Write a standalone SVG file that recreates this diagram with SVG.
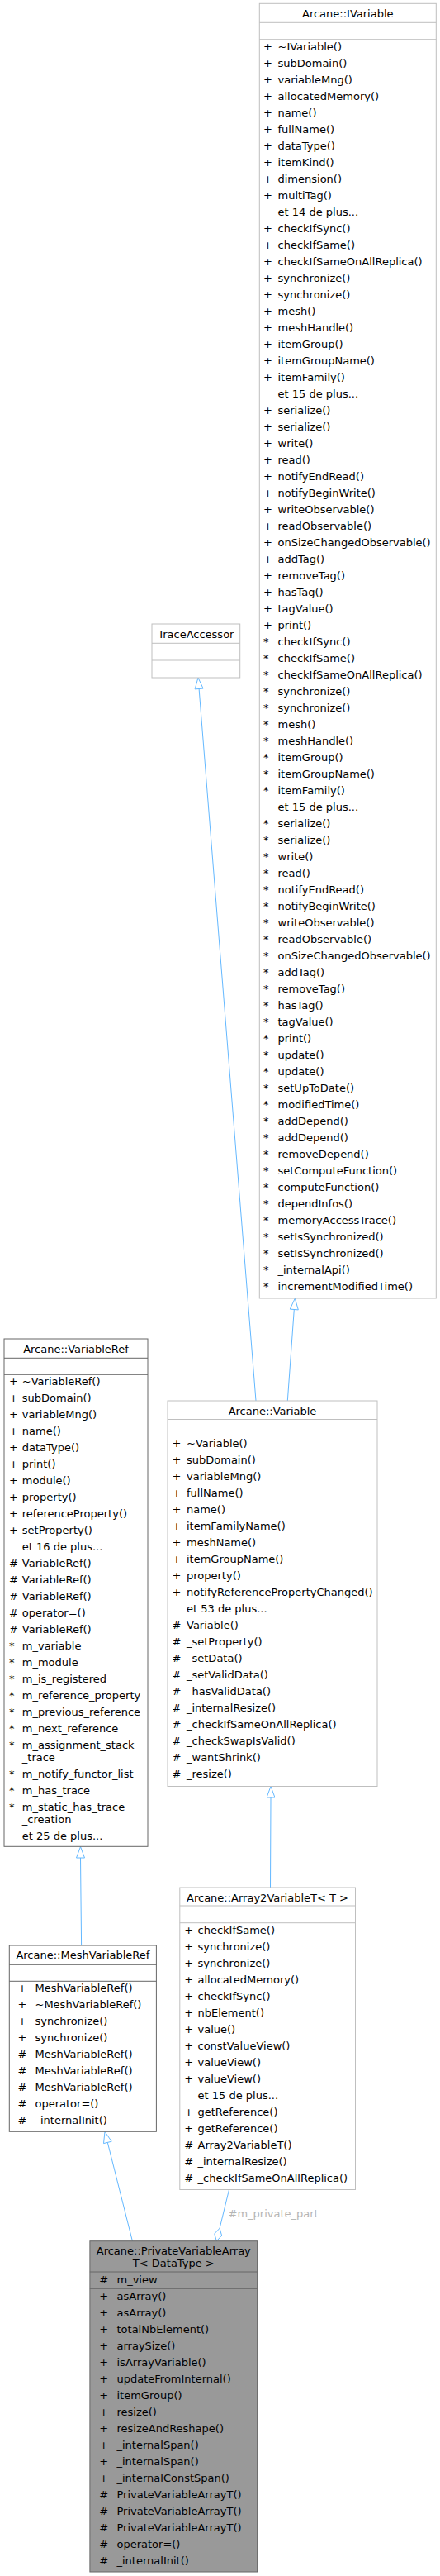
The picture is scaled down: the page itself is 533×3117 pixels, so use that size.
<svg xmlns="http://www.w3.org/2000/svg" width="533" height="3117" viewBox="0 0 533 3117">
<style>
text{font-family:"DejaVu Sans",sans-serif;font-size:13px;fill:#000}
.ti{text-anchor:middle}
.lb{fill:#fff;stroke:#bfbfbf;stroke-width:1}
.ll{stroke:#bfbfbf;stroke-width:1}
.db{fill:#fff;stroke:#666;stroke-width:1}
.dl{stroke:#666;stroke-width:1}
.cb{fill:#999;stroke:#666;stroke-width:1}
.e{fill:none;stroke:#63b8ff;stroke-width:1}
.ah{fill:#fff;stroke:#63b8ff;stroke-width:1}
.lab{fill:#b5b5b5}
</style>
<rect width="533" height="3117" fill="#fff"/>

<g id="edges">
  <!-- Variable -> IVariable -->
  <path class="e" d="M348.3,1695 L356.3,1584.5"/>
  <polygon class="ah" points="357.3,1571 361.3,1584.9 351.3,1584.1"/>
  <!-- Variable -> TraceAccessor -->
  <path class="e" d="M310,1695 L241.1,833.5"/>
  <polygon class="ah" points="240,820 246.1,833.1 236.1,833.9"/>
  <!-- MeshVariableRef -> VariableRef -->
  <path class="e" d="M98.6,2354 L97.5,2248"/>
  <polygon class="ah" points="97.5,2234.5 102.5,2248 92.5,2248"/>
  <!-- Array2VariableT -> Variable -->
  <path class="e" d="M327.5,2284 L328,2175"/>
  <polygon class="ah" points="328,2161.5 333,2175 323,2175"/>
  <!-- PrivateVariableArrayT -> MeshVariableRef -->
  <path class="e" d="M160.4,2711.7 L130.3,2592.4"/>
  <polygon class="ah" points="127,2579.3 135.2,2591.2 125.5,2593.6"/>
  <!-- Array2VariableT -> PrivateVariableArrayT (m_private_part) -->
  <path class="e" d="M277.5,2649.5 L266.1,2696.2"/>
  <polygon class="ah" points="262.3,2711.7 268.6,2705.1 266.1,2696.2 259.8,2702.9"/>
  <text class="lab" x="276.5" y="2683.3">#m_private_part</text>
</g>

<g id="IVariable">
  <rect class="lb" x="314.3" y="4.3" width="214" height="1566.7"/>
  <line class="ll" x1="314.3" y1="27.3" x2="528.3" y2="27.3"/>
  <line class="ll" x1="314.3" y1="47.7" x2="528.3" y2="47.7"/>
  <text class="ti" x="421.3" y="21.3">Arcane::IVariable</text>
  <text y="61"><tspan x="319">+</tspan><tspan x="336.5">~IVariable()</tspan></text>
  <text y="81"><tspan x="319">+</tspan><tspan x="336.5">subDomain()</tspan></text>
  <text y="101"><tspan x="319">+</tspan><tspan x="336.5">variableMng()</tspan></text>
  <text y="121"><tspan x="319">+</tspan><tspan x="336.5">allocatedMemory()</tspan></text>
  <text y="141"><tspan x="319">+</tspan><tspan x="336.5">name()</tspan></text>
  <text y="161"><tspan x="319">+</tspan><tspan x="336.5">fullName()</tspan></text>
  <text y="181"><tspan x="319">+</tspan><tspan x="336.5">dataType()</tspan></text>
  <text y="201"><tspan x="319">+</tspan><tspan x="336.5">itemKind()</tspan></text>
  <text y="221"><tspan x="319">+</tspan><tspan x="336.5">dimension()</tspan></text>
  <text y="241"><tspan x="319">+</tspan><tspan x="336.5">multiTag()</tspan></text>
  <text x="336.5" y="261">et 14 de plus...</text>
  <text y="281"><tspan x="319">+</tspan><tspan x="336.5">checkIfSync()</tspan></text>
  <text y="301"><tspan x="319">+</tspan><tspan x="336.5">checkIfSame()</tspan></text>
  <text y="321"><tspan x="319">+</tspan><tspan x="336.5">checkIfSameOnAllReplica()</tspan></text>
  <text y="341"><tspan x="319">+</tspan><tspan x="336.5">synchronize()</tspan></text>
  <text y="361"><tspan x="319">+</tspan><tspan x="336.5">synchronize()</tspan></text>
  <text y="381"><tspan x="319">+</tspan><tspan x="336.5">mesh()</tspan></text>
  <text y="401"><tspan x="319">+</tspan><tspan x="336.5">meshHandle()</tspan></text>
  <text y="421"><tspan x="319">+</tspan><tspan x="336.5">itemGroup()</tspan></text>
  <text y="441"><tspan x="319">+</tspan><tspan x="336.5">itemGroupName()</tspan></text>
  <text y="461"><tspan x="319">+</tspan><tspan x="336.5">itemFamily()</tspan></text>
  <text x="336.5" y="481">et 15 de plus...</text>
  <text y="501"><tspan x="319">+</tspan><tspan x="336.5">serialize()</tspan></text>
  <text y="521"><tspan x="319">+</tspan><tspan x="336.5">serialize()</tspan></text>
  <text y="541"><tspan x="319">+</tspan><tspan x="336.5">write()</tspan></text>
  <text y="561"><tspan x="319">+</tspan><tspan x="336.5">read()</tspan></text>
  <text y="581"><tspan x="319">+</tspan><tspan x="336.5">notifyEndRead()</tspan></text>
  <text y="601"><tspan x="319">+</tspan><tspan x="336.5">notifyBeginWrite()</tspan></text>
  <text y="621"><tspan x="319">+</tspan><tspan x="336.5">writeObservable()</tspan></text>
  <text y="641"><tspan x="319">+</tspan><tspan x="336.5">readObservable()</tspan></text>
  <text y="661"><tspan x="319">+</tspan><tspan x="336.5">onSizeChangedObservable()</tspan></text>
  <text y="681"><tspan x="319">+</tspan><tspan x="336.5">addTag()</tspan></text>
  <text y="701"><tspan x="319">+</tspan><tspan x="336.5">removeTag()</tspan></text>
  <text y="721"><tspan x="319">+</tspan><tspan x="336.5">hasTag()</tspan></text>
  <text y="741"><tspan x="319">+</tspan><tspan x="336.5">tagValue()</tspan></text>
  <text y="761"><tspan x="319">+</tspan><tspan x="336.5">print()</tspan></text>
  <text y="781"><tspan x="319">*</tspan><tspan x="336.5">checkIfSync()</tspan></text>
  <text y="801"><tspan x="319">*</tspan><tspan x="336.5">checkIfSame()</tspan></text>
  <text y="821"><tspan x="319">*</tspan><tspan x="336.5">checkIfSameOnAllReplica()</tspan></text>
  <text y="841"><tspan x="319">*</tspan><tspan x="336.5">synchronize()</tspan></text>
  <text y="861"><tspan x="319">*</tspan><tspan x="336.5">synchronize()</tspan></text>
  <text y="881"><tspan x="319">*</tspan><tspan x="336.5">mesh()</tspan></text>
  <text y="901"><tspan x="319">*</tspan><tspan x="336.5">meshHandle()</tspan></text>
  <text y="921"><tspan x="319">*</tspan><tspan x="336.5">itemGroup()</tspan></text>
  <text y="941"><tspan x="319">*</tspan><tspan x="336.5">itemGroupName()</tspan></text>
  <text y="961"><tspan x="319">*</tspan><tspan x="336.5">itemFamily()</tspan></text>
  <text x="336.5" y="981">et 15 de plus...</text>
  <text y="1001"><tspan x="319">*</tspan><tspan x="336.5">serialize()</tspan></text>
  <text y="1021"><tspan x="319">*</tspan><tspan x="336.5">serialize()</tspan></text>
  <text y="1041"><tspan x="319">*</tspan><tspan x="336.5">write()</tspan></text>
  <text y="1061"><tspan x="319">*</tspan><tspan x="336.5">read()</tspan></text>
  <text y="1081"><tspan x="319">*</tspan><tspan x="336.5">notifyEndRead()</tspan></text>
  <text y="1101"><tspan x="319">*</tspan><tspan x="336.5">notifyBeginWrite()</tspan></text>
  <text y="1121"><tspan x="319">*</tspan><tspan x="336.5">writeObservable()</tspan></text>
  <text y="1141"><tspan x="319">*</tspan><tspan x="336.5">readObservable()</tspan></text>
  <text y="1161"><tspan x="319">*</tspan><tspan x="336.5">onSizeChangedObservable()</tspan></text>
  <text y="1181"><tspan x="319">*</tspan><tspan x="336.5">addTag()</tspan></text>
  <text y="1201"><tspan x="319">*</tspan><tspan x="336.5">removeTag()</tspan></text>
  <text y="1221"><tspan x="319">*</tspan><tspan x="336.5">hasTag()</tspan></text>
  <text y="1241"><tspan x="319">*</tspan><tspan x="336.5">tagValue()</tspan></text>
  <text y="1261"><tspan x="319">*</tspan><tspan x="336.5">print()</tspan></text>
  <text y="1281"><tspan x="319">*</tspan><tspan x="336.5">update()</tspan></text>
  <text y="1301"><tspan x="319">*</tspan><tspan x="336.5">update()</tspan></text>
  <text y="1321"><tspan x="319">*</tspan><tspan x="336.5">setUpToDate()</tspan></text>
  <text y="1341"><tspan x="319">*</tspan><tspan x="336.5">modifiedTime()</tspan></text>
  <text y="1361"><tspan x="319">*</tspan><tspan x="336.5">addDepend()</tspan></text>
  <text y="1381"><tspan x="319">*</tspan><tspan x="336.5">addDepend()</tspan></text>
  <text y="1401"><tspan x="319">*</tspan><tspan x="336.5">removeDepend()</tspan></text>
  <text y="1421"><tspan x="319">*</tspan><tspan x="336.5">setComputeFunction()</tspan></text>
  <text y="1441"><tspan x="319">*</tspan><tspan x="336.5">computeFunction()</tspan></text>
  <text y="1461"><tspan x="319">*</tspan><tspan x="336.5">dependInfos()</tspan></text>
  <text y="1481"><tspan x="319">*</tspan><tspan x="336.5">memoryAccessTrace()</tspan></text>
  <text y="1501"><tspan x="319">*</tspan><tspan x="336.5">setIsSynchronized()</tspan></text>
  <text y="1521"><tspan x="319">*</tspan><tspan x="336.5">setIsSynchronized()</tspan></text>
  <text y="1541"><tspan x="319">*</tspan><tspan x="336.5">_internalApi()</tspan></text>
  <text y="1561"><tspan x="319">*</tspan><tspan x="336.5">incrementModifiedTime()</tspan></text>
</g>

<g id="TraceAccessor">
  <rect class="lb" x="184" y="755" width="106.7" height="65"/>
  <line class="ll" x1="184" y1="778.3" x2="290.7" y2="778.3"/>
  <line class="ll" x1="184" y1="799" x2="290.7" y2="799"/>
  <text class="ti" x="237.3" y="772">TraceAccessor</text>
</g>

<g id="Variable">
  <rect class="lb" x="203" y="1695" width="254" height="466.5"/>
  <line class="ll" x1="203" y1="1717.5" x2="457" y2="1717.5"/>
  <line class="ll" x1="203" y1="1737.5" x2="457" y2="1737.5"/>
  <text class="ti" x="330" y="1712">Arcane::Variable</text>
  <text y="1751"><tspan x="208.5">+</tspan><tspan x="226">~Variable()</tspan></text>
  <text y="1771"><tspan x="208.5">+</tspan><tspan x="226">subDomain()</tspan></text>
  <text y="1791"><tspan x="208.5">+</tspan><tspan x="226">variableMng()</tspan></text>
  <text y="1811"><tspan x="208.5">+</tspan><tspan x="226">fullName()</tspan></text>
  <text y="1831"><tspan x="208.5">+</tspan><tspan x="226">name()</tspan></text>
  <text y="1851"><tspan x="208.5">+</tspan><tspan x="226">itemFamilyName()</tspan></text>
  <text y="1871"><tspan x="208.5">+</tspan><tspan x="226">meshName()</tspan></text>
  <text y="1891"><tspan x="208.5">+</tspan><tspan x="226">itemGroupName()</tspan></text>
  <text y="1911"><tspan x="208.5">+</tspan><tspan x="226">property()</tspan></text>
  <text y="1931"><tspan x="208.5">+</tspan><tspan x="226">notifyReferencePropertyChanged()</tspan></text>
  <text x="226" y="1951">et 53 de plus...</text>
  <text y="1971"><tspan x="208.5">#</tspan><tspan x="226">Variable()</tspan></text>
  <text y="1991"><tspan x="208.5">#</tspan><tspan x="226">_setProperty()</tspan></text>
  <text y="2011"><tspan x="208.5">#</tspan><tspan x="226">_setData()</tspan></text>
  <text y="2031"><tspan x="208.5">#</tspan><tspan x="226">_setValidData()</tspan></text>
  <text y="2051"><tspan x="208.5">#</tspan><tspan x="226">_hasValidData()</tspan></text>
  <text y="2071"><tspan x="208.5">#</tspan><tspan x="226">_internalResize()</tspan></text>
  <text y="2091"><tspan x="208.5">#</tspan><tspan x="226">_checkIfSameOnAllReplica()</tspan></text>
  <text y="2111"><tspan x="208.5">#</tspan><tspan x="226">_checkSwapIsValid()</tspan></text>
  <text y="2131"><tspan x="208.5">#</tspan><tspan x="226">_wantShrink()</tspan></text>
  <text y="2151"><tspan x="208.5">#</tspan><tspan x="226">_resize()</tspan></text>
</g>

<g id="VariableRef">
  <rect class="db" x="5" y="1620" width="174" height="614.3"/>
  <line class="dl" x1="5" y1="1643.3" x2="179" y2="1643.3"/>
  <line class="dl" x1="5" y1="1663.3" x2="179" y2="1663.3"/>
  <text class="ti" x="92" y="1637">Arcane::VariableRef</text>
  <text y="1676"><tspan x="11">+</tspan><tspan x="26.8">~VariableRef()</tspan></text>
  <text y="1696"><tspan x="11">+</tspan><tspan x="26.8">subDomain()</tspan></text>
  <text y="1716"><tspan x="11">+</tspan><tspan x="26.8">variableMng()</tspan></text>
  <text y="1736"><tspan x="11">+</tspan><tspan x="26.8">name()</tspan></text>
  <text y="1756"><tspan x="11">+</tspan><tspan x="26.8">dataType()</tspan></text>
  <text y="1776"><tspan x="11">+</tspan><tspan x="26.8">print()</tspan></text>
  <text y="1796"><tspan x="11">+</tspan><tspan x="26.8">module()</tspan></text>
  <text y="1816"><tspan x="11">+</tspan><tspan x="26.8">property()</tspan></text>
  <text y="1836"><tspan x="11">+</tspan><tspan x="26.8">referenceProperty()</tspan></text>
  <text y="1856"><tspan x="11">+</tspan><tspan x="26.8">setProperty()</tspan></text>
  <text x="26.8" y="1876">et 16 de plus...</text>
  <text y="1896"><tspan x="11">#</tspan><tspan x="26.8">VariableRef()</tspan></text>
  <text y="1916"><tspan x="11">#</tspan><tspan x="26.8">VariableRef()</tspan></text>
  <text y="1936"><tspan x="11">#</tspan><tspan x="26.8">VariableRef()</tspan></text>
  <text y="1956"><tspan x="11">#</tspan><tspan x="26.8">operator=()</tspan></text>
  <text y="1976"><tspan x="11">#</tspan><tspan x="26.8">VariableRef()</tspan></text>
  <text y="1996"><tspan x="11">*</tspan><tspan x="26.8">m_variable</tspan></text>
  <text y="2016"><tspan x="11">*</tspan><tspan x="26.8">m_module</tspan></text>
  <text y="2036"><tspan x="11">*</tspan><tspan x="26.8">m_is_registered</tspan></text>
  <text y="2056"><tspan x="11">*</tspan><tspan x="26.8">m_reference_property</tspan></text>
  <text y="2076"><tspan x="11">*</tspan><tspan x="26.8">m_previous_reference</tspan></text>
  <text y="2096"><tspan x="11">*</tspan><tspan x="26.8">m_next_reference</tspan></text>
  <text y="2116"><tspan x="11">*</tspan><tspan x="26.8">m_assignment_stack</tspan></text>
  <text x="26.8" y="2131">_trace</text>
  <text y="2151"><tspan x="11">*</tspan><tspan x="26.8">m_notify_functor_list</tspan></text>
  <text y="2171"><tspan x="11">*</tspan><tspan x="26.8">m_has_trace</tspan></text>
  <text y="2191"><tspan x="11">*</tspan><tspan x="26.8">m_static_has_trace</tspan></text>
  <text x="26.8" y="2206">_creation</text>
  <text x="26.8" y="2226">et 25 de plus...</text>
</g>

<g id="MeshVariableRef">
  <rect class="db" x="11.3" y="2354" width="178.1" height="225.3"/>
  <line class="dl" x1="11.3" y1="2377.3" x2="189.4" y2="2377.3"/>
  <line class="dl" x1="11.3" y1="2397.3" x2="189.4" y2="2397.3"/>
  <text class="ti" x="100.4" y="2370">Arcane::MeshVariableRef</text>
  <text y="2410"><tspan x="21.5">+</tspan><tspan x="42.5">MeshVariableRef()</tspan></text>
  <text y="2430"><tspan x="21.5">+</tspan><tspan x="42.5">~MeshVariableRef()</tspan></text>
  <text y="2450"><tspan x="21.5">+</tspan><tspan x="42.5">synchronize()</tspan></text>
  <text y="2470"><tspan x="21.5">+</tspan><tspan x="42.5">synchronize()</tspan></text>
  <text y="2490"><tspan x="21.5">#</tspan><tspan x="42.5">MeshVariableRef()</tspan></text>
  <text y="2510"><tspan x="21.5">#</tspan><tspan x="42.5">MeshVariableRef()</tspan></text>
  <text y="2530"><tspan x="21.5">#</tspan><tspan x="42.5">MeshVariableRef()</tspan></text>
  <text y="2550"><tspan x="21.5">#</tspan><tspan x="42.5">operator=()</tspan></text>
  <text y="2570"><tspan x="21.5">#</tspan><tspan x="42.5">_internalInit()</tspan></text>
</g>

<g id="Array2VariableT">
  <rect class="lb" x="217.8" y="2284" width="212.7" height="365.5"/>
  <line class="ll" x1="217.8" y1="2306" x2="430.5" y2="2306"/>
  <line class="ll" x1="217.8" y1="2326.7" x2="430.5" y2="2326.7"/>
  <text class="ti" x="324" y="2301">Arcane::Array2VariableT&lt; T &gt;</text>
  <text y="2340"><tspan x="223.3">+</tspan><tspan x="239.5">checkIfSame()</tspan></text>
  <text y="2360"><tspan x="223.3">+</tspan><tspan x="239.5">synchronize()</tspan></text>
  <text y="2380"><tspan x="223.3">+</tspan><tspan x="239.5">synchronize()</tspan></text>
  <text y="2400"><tspan x="223.3">+</tspan><tspan x="239.5">allocatedMemory()</tspan></text>
  <text y="2420"><tspan x="223.3">+</tspan><tspan x="239.5">checkIfSync()</tspan></text>
  <text y="2440"><tspan x="223.3">+</tspan><tspan x="239.5">nbElement()</tspan></text>
  <text y="2460"><tspan x="223.3">+</tspan><tspan x="239.5">value()</tspan></text>
  <text y="2480"><tspan x="223.3">+</tspan><tspan x="239.5">constValueView()</tspan></text>
  <text y="2500"><tspan x="223.3">+</tspan><tspan x="239.5">valueView()</tspan></text>
  <text y="2520"><tspan x="223.3">+</tspan><tspan x="239.5">valueView()</tspan></text>
  <text x="239.5" y="2540">et 15 de plus...</text>
  <text y="2560"><tspan x="223.3">+</tspan><tspan x="239.5">getReference()</tspan></text>
  <text y="2580"><tspan x="223.3">+</tspan><tspan x="239.5">getReference()</tspan></text>
  <text y="2600"><tspan x="223.3">#</tspan><tspan x="239.5">Array2VariableT()</tspan></text>
  <text y="2620"><tspan x="223.3">#</tspan><tspan x="239.5">_internalResize()</tspan></text>
  <text y="2640"><tspan x="223.3">#</tspan><tspan x="239.5">_checkIfSameOnAllReplica()</tspan></text>
</g>

<g id="PrivateVariableArrayT">
  <rect class="cb" x="108.9" y="2711.7" width="202.7" height="400.3"/>
  <line class="dl" x1="108.9" y1="2749" x2="311.6" y2="2749"/>
  <line class="dl" x1="108.9" y1="2769.3" x2="311.6" y2="2769.3"/>
  <text class="ti" x="210.3" y="2728.3">Arcane::PrivateVariableArray</text>
  <text class="ti" x="210.3" y="2742.7">T&lt; DataType &gt;</text>
  <text y="2762.7"><tspan x="120.3">#</tspan><tspan x="141.5">m_view</tspan></text>
  <text y="2782.7"><tspan x="120.3">+</tspan><tspan x="141.5">asArray()</tspan></text>
  <text y="2802.7"><tspan x="120.3">+</tspan><tspan x="141.5">asArray()</tspan></text>
  <text y="2822.7"><tspan x="120.3">+</tspan><tspan x="141.5">totalNbElement()</tspan></text>
  <text y="2842.7"><tspan x="120.3">+</tspan><tspan x="141.5">arraySize()</tspan></text>
  <text y="2862.7"><tspan x="120.3">+</tspan><tspan x="141.5">isArrayVariable()</tspan></text>
  <text y="2882.7"><tspan x="120.3">+</tspan><tspan x="141.5">updateFromInternal()</tspan></text>
  <text y="2902.7"><tspan x="120.3">+</tspan><tspan x="141.5">itemGroup()</tspan></text>
  <text y="2922.7"><tspan x="120.3">+</tspan><tspan x="141.5">resize()</tspan></text>
  <text y="2942.7"><tspan x="120.3">+</tspan><tspan x="141.5">resizeAndReshape()</tspan></text>
  <text y="2962.7"><tspan x="120.3">+</tspan><tspan x="141.5">_internalSpan()</tspan></text>
  <text y="2982.7"><tspan x="120.3">+</tspan><tspan x="141.5">_internalSpan()</tspan></text>
  <text y="3002.7"><tspan x="120.3">+</tspan><tspan x="141.5">_internalConstSpan()</tspan></text>
  <text y="3022.7"><tspan x="120.3">#</tspan><tspan x="141.5">PrivateVariableArrayT()</tspan></text>
  <text y="3042.7"><tspan x="120.3">#</tspan><tspan x="141.5">PrivateVariableArrayT()</tspan></text>
  <text y="3062.7"><tspan x="120.3">#</tspan><tspan x="141.5">PrivateVariableArrayT()</tspan></text>
  <text y="3082.7"><tspan x="120.3">#</tspan><tspan x="141.5">operator=()</tspan></text>
  <text y="3102.7"><tspan x="120.3">#</tspan><tspan x="141.5">_internalInit()</tspan></text>
</g>
</svg>
